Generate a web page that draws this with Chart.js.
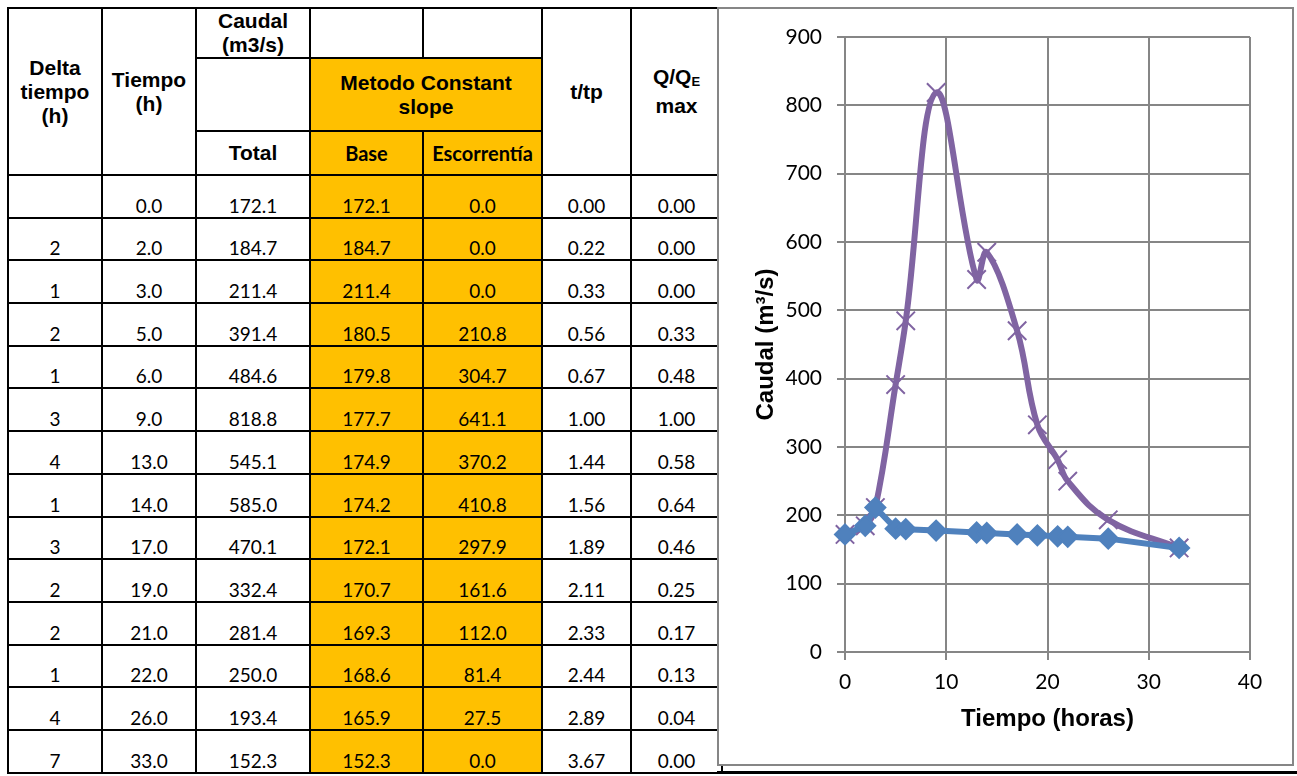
<!DOCTYPE html>
<html>
<head>
<meta charset="utf-8">
<script src="https://cdn.jsdelivr.net/npm/chart.js@4.4.0/dist/chart.umd.min.js"></script>
<style>
body { margin: 0; background: #fff; width: 1297px; height: 776px; overflow: hidden; position: relative; }
#tabla { position: absolute; left: 7px; top: 7px; border-collapse: collapse; table-layout: fixed; }
#tabla td, #tabla th { border: 2px solid #000; padding: 0; text-align: center; }
#tabla th { font: bold 21px "Liberation Sans", Arial, sans-serif; line-height: 24px; vertical-align: middle; color: #000; }
#tabla th.cal { font-family: Lato, sans-serif; font-size: 20px; }
#tabla td { font: 19px Lato, sans-serif; line-height: 22px; vertical-align: bottom; color: #000; }
#tabla .nar { background: #FFC000; }
#tabla sub { font-size: 13px; vertical-align: -2px; }
#panel { position: absolute; left: 717px; top: 7px; width: 577px; height: 759px; box-sizing: border-box; border: 2px solid #868686; background: #fff; }
#panel canvas { display: block; }
#linea { position: absolute; left: 717px; top: 771px; width: 580px; height: 3px; background: #000; }
</style>
</head>
<body>

<table id="tabla">
  <colgroup>
    <col style="width:94px"><col style="width:94px"><col style="width:114px"><col style="width:113px">
    <col style="width:119px"><col style="width:89px"><col style="width:91px">
  </colgroup>
  <thead>
    <tr style="height:50px">
      <th rowspan="3">Delta<br>tiempo<br>(h)</th>
      <th rowspan="3">Tiempo<br>(h)</th>
      <th>Caudal<br>(m3/s)</th>
      <th></th>
      <th></th>
      <th rowspan="3">t/tp</th>
      <th rowspan="3">Q/Q<sub>E</sub><br>max</th>
    </tr>
    <tr style="height:73px">
      <th></th>
      <th colspan="2" class="nar">Metodo Constant<br>slope</th>
    </tr>
    <tr style="height:44px">
      <th>Total</th>
      <th class="nar cal">Base</th>
      <th class="nar cal">Escorrentía</th>
    </tr>
  </thead>
  <tbody id="cuerpo"></tbody>
</table>

<div id="panel"><canvas id="grafico" width="573" height="755"></canvas></div>
<div id="linea"></div>

<script>
// datos de la tabla / hidrograma
const delta = [null, 2, 1, 2, 1, 3, 4, 1, 3, 2, 2, 1, 4, 7];
const tiempo = [0, 2, 3, 5, 6, 9, 13, 14, 17, 19, 21, 22, 26, 33];
const total = [172.1, 184.7, 211.4, 391.4, 484.6, 818.8, 545.1, 585.0, 470.1, 332.4, 281.4, 250.0, 193.4, 152.3];
const base = [172.1, 184.7, 211.4, 180.5, 179.8, 177.7, 174.9, 174.2, 172.1, 170.7, 169.3, 168.6, 165.9, 152.3];
const escorrentia = [0.0, 0.0, 0.0, 210.8, 304.7, 641.1, 370.2, 410.8, 297.9, 161.6, 112.0, 81.4, 27.5, 0.0];
const ttp = [0.00, 0.22, 0.33, 0.56, 0.67, 1.00, 1.44, 1.56, 1.89, 2.11, 2.33, 2.44, 2.89, 3.67];
const qqe = [0.00, 0.00, 0.00, 0.33, 0.48, 1.00, 0.58, 0.64, 0.46, 0.25, 0.17, 0.13, 0.04, 0.00];

const xTicks = [0, 10, 20, 30, 40];
const yMax = 900;

// filas de la tabla
const cuerpo = document.getElementById('cuerpo');
tiempo.forEach(function (t, i) {
    let tr = document.createElement('tr');
    tr.style.height = '42.7px';
    let celdas = [
        [delta[i] === null ? '' : delta[i], ''],
        [t.toFixed(1), ''],
        [total[i].toFixed(1), ''],
        [base[i].toFixed(1), 'nar'],
        [escorrentia[i].toFixed(1), 'nar'],
        [ttp[i].toFixed(2), ''],
        [qqe[i].toFixed(2), '']
    ];
    celdas.forEach(function (c) {
        let td = document.createElement('td');
        td.textContent = c[0];
        if (c[1]) td.className = c[1];
        tr.appendChild(td);
    });
    cuerpo.appendChild(tr);
});

// grafico
const ctx = document.getElementById('grafico').getContext('2d');
const gris = '#868686';

new Chart(ctx, {
    type: 'scatter',
    data: {
        datasets: [
            {
                label: 'Base',
                data: tiempo.map((t, i) => ({ x: t, y: base[i] })),
                showLine: true,
                borderColor: '#4F81BD',
                backgroundColor: '#4F81BD',
                borderWidth: 6,
                pointStyle: 'rectRot',
                pointRadius: 10,
                pointBackgroundColor: '#4F81BD',
                pointBorderColor: '#4F81BD',
                pointBorderWidth: 2,
                tension: 0,
                clip: false,
                order: 0
            },
            {
                label: 'Total',
                data: tiempo.map((t, i) => ({ x: t, y: total[i] })),
                showLine: true,
                borderColor: '#8064A2',
                backgroundColor: '#8064A2',
                borderWidth: 6,
                pointStyle: 'crossRot',
                pointRadius: 13,
                pointBorderColor: '#8064A2',
                pointBorderWidth: 2,
                tension: 0.4,
                clip: false,
                order: 1
            }
        ]
    },
    options: {
        responsive: false,
        animation: false,
        layout: { padding: { top: 28, right: 42, left: 0, bottom: 0 } },
        plugins: {
            legend: { display: false },
            tooltip: { enabled: false }
        },
        scales: {
            x: {
                type: 'linear',
                min: 0,
                max: 40,
                afterBuildTicks: function (scale) {
                    scale.ticks = xTicks.map(v => ({ value: v }));
                },
                afterFit: function (scale) { scale.height = 112; },
                grid: { color: gris, lineWidth: 2, tickLength: 8 },
                border: { color: gris, width: 2 },
                ticks: { color: '#000', padding: 10, font: { family: 'Lato', size: 21 } },
                title: {
                    display: true,
                    text: 'Tiempo (horas)',
                    color: '#000',
                    padding: { top: 0, bottom: 30 },
                    font: { family: 'Liberation Sans', size: 24, weight: 'bold' }
                }
            },
            y: {
                min: 0,
                max: yMax,
                ticks: { stepSize: 100, color: '#000', padding: 15, font: { family: 'Lato', size: 21 } },
                afterFit: function (scale) { scale.width = 126; },
                grid: { color: gris, lineWidth: 2, tickLength: 8 },
                border: { color: gris, width: 2 },
                title: {
                    display: true,
                    text: 'Caudal (m³/s)',
                    color: '#000',
                    padding: { top: 33, bottom: 0 },
                    font: { family: 'Liberation Sans', size: 24, weight: 'bold' }
                }
            }
        }
    }
});
</script>
</body>
</html>
